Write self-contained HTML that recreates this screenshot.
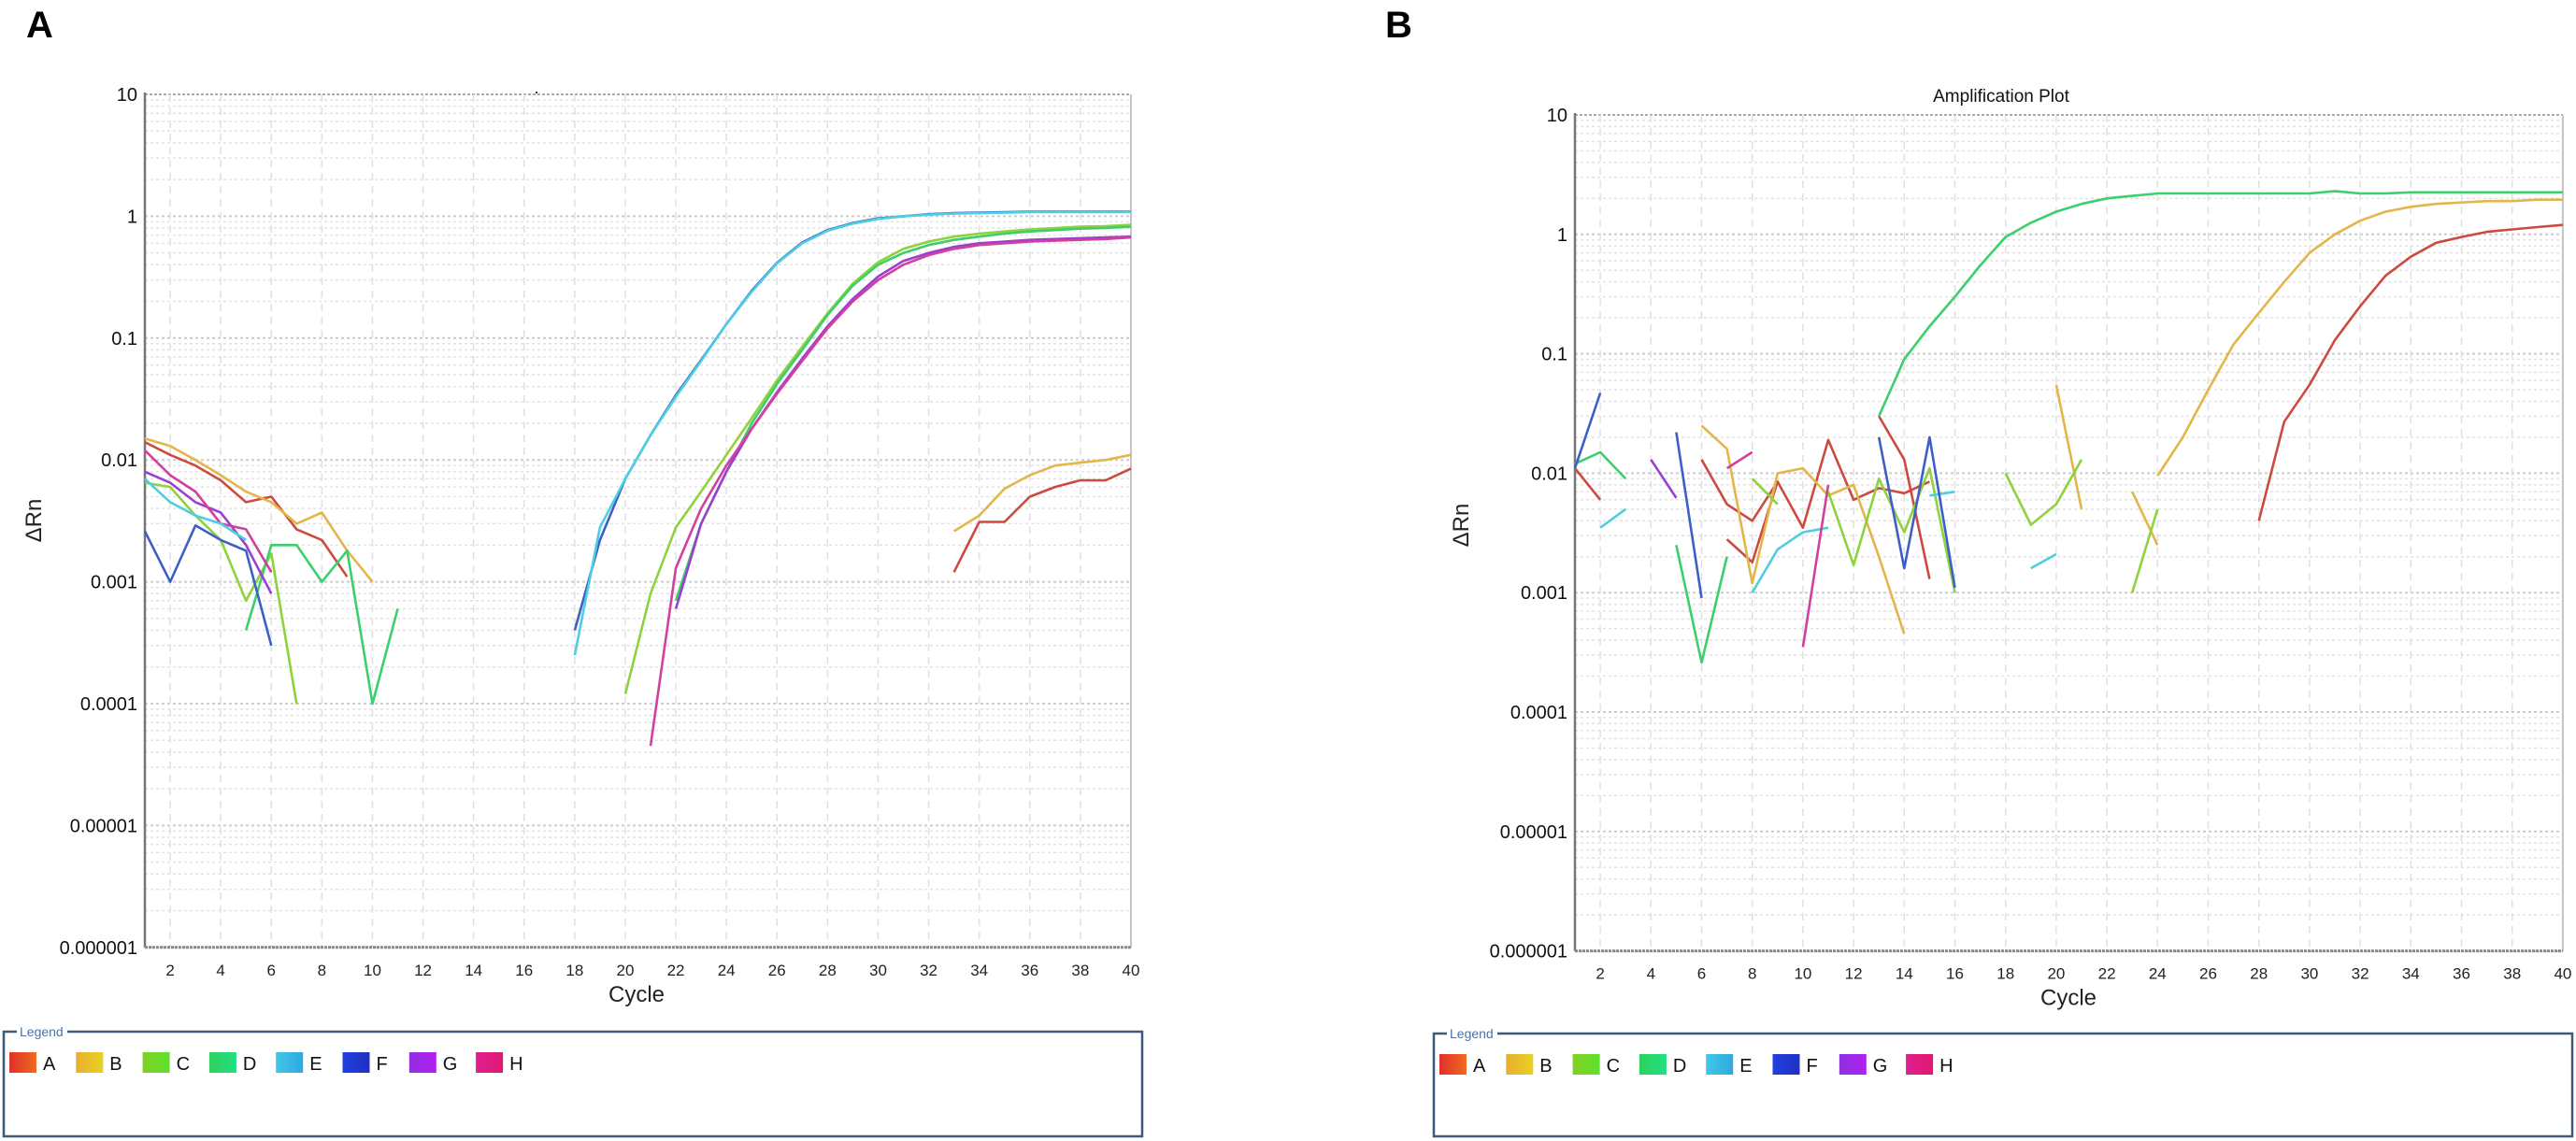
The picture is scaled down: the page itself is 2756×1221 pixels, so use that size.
<!DOCTYPE html>
<html><head><meta charset="utf-8">
<style>
html,body{margin:0;padding:0;background:#fff;}
body{width:2756px;height:1221px;overflow:hidden;font-family:"Liberation Sans",sans-serif;}
svg{position:absolute;left:0;top:0;}
</style></head>
<body>
<svg id="chart" width="2756" height="1221" viewBox="0 0 2756 1221" xmlns="http://www.w3.org/2000/svg">
<defs>
<linearGradient id="gA" x1="0" x2="1"><stop offset="0" stop-color="#e0302a"/><stop offset="1" stop-color="#f06a20"/></linearGradient>
<linearGradient id="gB" x1="0" x2="1"><stop offset="0" stop-color="#e8b030"/><stop offset="1" stop-color="#e8d020"/></linearGradient>
<linearGradient id="gC" x1="0" x2="1"><stop offset="0" stop-color="#80d020"/><stop offset="1" stop-color="#60e030"/></linearGradient>
<linearGradient id="gD" x1="0" x2="1"><stop offset="0" stop-color="#30d060"/><stop offset="1" stop-color="#20e080"/></linearGradient>
<linearGradient id="gE" x1="0" x2="1"><stop offset="0" stop-color="#40c8e8"/><stop offset="1" stop-color="#30a8e0"/></linearGradient>
<linearGradient id="gF" x1="0" x2="1"><stop offset="0" stop-color="#2040e0"/><stop offset="1" stop-color="#2030c0"/></linearGradient>
<linearGradient id="gG" x1="0" x2="1"><stop offset="0" stop-color="#9030e0"/><stop offset="1" stop-color="#b020f0"/></linearGradient>
<linearGradient id="gH" x1="0" x2="1"><stop offset="0" stop-color="#e02090"/><stop offset="1" stop-color="#e01870"/></linearGradient>
</defs>
<text x="28" y="40" font-size="40" font-weight="bold" fill="#000">A</text>
<text x="1482" y="40" font-size="40" font-weight="bold" fill="#000">B</text>
<text x="2141" y="109" font-size="19" text-anchor="middle" fill="#111">Amplification Plot</text>
<rect x="573" y="98" width="2" height="2" fill="#333"/>
<g id="panelA"></g>
<g id="panelB"></g>
</svg>
<script>
const N = null;
const cycleTicks = [2,4,6,8,10,12,14,16,18,20,22,24,26,28,30,32,34,36,38,40];
const yTickValues = [10,1,0.1,0.01,0.001,0.0001,0.00001,0.000001];
const yTickLabels = ["10","1","0.1","0.01","0.001","0.0001","0.00001","0.000001"];
const legendKeys = ["A","B","C","D","E","F","G","H"];
const lineColors = {A:"#cc4a3e",B:"#e3b64a",C:"#8ed23c",D:"#3ccf6c",E:"#4fcde2",F:"#3d5fc6",G:"#9a3fd0",H:"#d2409e"};

// Panel A series (cycle 1..40, null = no data)
const aA1 = [0.014,0.011,0.009,0.0068,0.0045,0.005,0.0027,0.0022,0.0011,N,N,N,N,N,N,N,N,N,N,N,N,N,N,N,N,N,N,N,N,N,N,N,0.0012,0.0031,0.0031,0.005,0.006,0.0068,0.0068,0.0085];
const aB1 = [0.015,0.013,0.010,0.0075,0.0055,0.0045,0.003,0.0037,0.0018,0.001,N,N,N,N,N,N,N,N,N,N,N,N,N,N,N,N,N,N,N,N,N,N,0.0026,0.0035,0.0058,0.0075,0.009,0.0095,0.010,0.011];
const aC1 = [0.0065,0.006,0.0035,0.0022,0.0007,0.0017,0.0001,N,N,N,N,N,N,N,N,N,N,N,N,0.00012,0.0008,0.0028,0.0055,0.011,0.022,0.045,0.085,0.16,0.28,0.42,0.54,0.62,0.68,0.72,0.75,0.78,0.8,0.82,0.83,0.85];
const aD1 = [N,N,N,N,0.0004,0.002,0.002,0.001,0.0018,0.0001,0.0006,N,N,N,N,N,N,N,N,N,N,0.0007,0.003,0.008,0.02,0.042,0.08,0.155,0.27,0.4,0.5,0.58,0.64,0.68,0.72,0.75,0.77,0.79,0.8,0.82];
const aE1 = [0.007,0.0045,0.0035,0.003,0.0022,N,N,N,N,N,N,N,N,N,N,N,N,0.00025,0.0028,0.007,0.016,0.033,0.065,0.13,0.24,0.41,0.6,0.76,0.87,0.95,1.0,1.03,1.05,1.06,1.07,1.08,1.08,1.08,1.08,1.08];
const aF1 = [0.0026,0.001,0.0029,0.0022,0.0018,0.0003,N,N,N,N,N,N,N,N,N,N,N,0.0004,0.0022,0.007,0.016,0.034,0.066,0.13,0.245,0.415,0.61,0.77,0.88,0.96,1.0,1.04,1.06,1.07,1.08,1.09,1.09,1.09,1.09,1.09];
const aG1 = [0.008,0.0065,0.0045,0.0037,0.002,0.0008,N,N,N,N,N,N,N,N,N,N,N,N,N,N,N,0.0006,0.003,0.008,0.018,0.036,0.068,0.125,0.21,0.32,0.43,0.5,0.56,0.6,0.62,0.64,0.65,0.66,0.67,0.68];
const aH1 = [0.012,0.0075,0.0055,0.003,0.0027,0.0012,N,N,N,N,N,N,N,N,N,N,N,N,N,N,0.000045,0.0013,0.004,0.009,0.018,0.035,0.065,0.12,0.2,0.3,0.4,0.48,0.54,0.58,0.6,0.62,0.63,0.64,0.65,0.67];

// Panel B series
const bA1 = [0.011,0.006,N,N,N,0.013,0.0055,0.004,0.0085,0.0035,0.019,0.006,0.0075,0.0068,0.0085,N,N,N,N,N,N,N,N,N,N,N,N,0.004,0.027,0.055,0.13,0.25,0.45,0.65,0.85,0.95,1.05,1.1,1.15,1.2];
const bA2 = [N,N,N,N,N,N,0.0028,0.0018,0.0085,N,N,N,0.03,0.013,0.0013,N,N,N,N,N,N,N,N,N,N,N,N,N,N,N,N,N,N,N,N,N,N,N,N,N];
const bB1 = [N,N,N,N,N,0.025,0.016,0.0012,0.010,0.011,0.0065,0.008,0.002,0.00045,N,N,0.019,N,N,0.055,0.005,N,0.007,0.0025,N,N,N,N,N,N,N,N,N,N,N,N,N,N,N,N];
const bB2 = [N,N,N,N,N,N,N,N,N,N,N,N,N,N,N,N,N,N,N,N,N,N,N,0.0095,0.02,0.05,0.12,0.22,0.4,0.7,1.0,1.3,1.55,1.7,1.8,1.85,1.9,1.9,1.95,1.95];
const bC1 = [N,N,N,N,N,N,N,0.009,0.0055,N,0.007,0.0017,0.009,0.0032,0.011,0.001,N,0.01,0.0037,0.0055,0.013,N,0.001,0.005,N,N,N,N,N,N,N,N,N,N,N,N,N,N,N,N];
const bD1 = [0.012,0.015,0.009,N,0.0025,0.00026,0.002,N,N,N,N,N,0.03,0.09,0.17,0.3,0.55,0.95,1.25,1.55,1.8,2.0,2.1,2.2,2.2,2.2,2.2,2.2,2.2,2.2,2.3,2.2,2.2,2.25,2.25,2.25,2.25,2.25,2.25,2.25];
const bE1 = [N,0.0035,0.005,N,N,N,N,0.001,0.0023,0.0032,0.0035,N,N,N,0.0065,0.007,N,N,0.0016,0.0021,N,N,N,N,N,N,N,N,N,N,N,N,N,N,N,N,N,N,N,N];
const bF1 = [0.011,0.047,N,N,0.022,0.0009,N,N,N,N,N,N,0.02,0.0016,0.02,0.0011,N,N,N,N,N,N,N,N,N,N,N,N,N,N,N,N,N,N,N,N,N,N,N,N];
const bG1 = [N,N,N,0.013,0.0062,N,N,N,N,N,N,N,N,N,N,N,N,N,N,N,N,N,N,N,N,N,N,N,N,N,N,N,N,N,N,N,N,N,N,N];
const bH1 = [N,N,N,N,N,N,0.011,0.015,N,0.00035,0.008,N,0.02,N,N,N,N,N,N,N,N,N,N,N,N,N,N,N,N,N,N,N,N,N,N,N,N,N,N,N];

const seriesA = [["A",aA1],["B",aB1],["C",aC1],["D",aD1],["G",aG1],["H",aH1],["F",aF1],["E",aE1]];
const seriesB = [["A",bA1],["A",bA2],["B",bB1],["B",bB2],["C",bC1],["D",bD1],["E",bE1],["F",bF1],["G",bG1],["H",bH1]];

const NS = "http://www.w3.org/2000/svg";
function mk(tag, attrs, parent){
  const e = document.createElementNS(NS, tag);
  for (const k in attrs) e.setAttribute(k, attrs[k]);
  parent.appendChild(e); return e;
}

function drawPanel(g, geo, series, prefix){
  const xs = c => geo.x0 + (c-1)*geo.dx;
  const ys = v => geo.yTop + (1 - Math.log10(v))*geo.dec;
  const yBot = ys(0.000001), xR = xs(40);
  for (let d=1; d>=-6; d--){
    for (let m=1; m<=9; m++){
      const val = m*Math.pow(10,d-1);
      if (val>10 || val<0.000001) continue;
      const y = ys(val);
      const l = mk("line",{x1:geo.x0,x2:xR,y1:y,y2:y,stroke:m===1?"#cccccc":"#e2e2e2","stroke-width":m===1?2:1.5,"stroke-dasharray":"3 3"},g);
      
      
    }
  }
  const top = mk("line",{x1:geo.x0,x2:xR,y1:ys(10),y2:ys(10),stroke:"#aaa","stroke-width":2,"stroke-dasharray":"3 2"},g);
  
  
  cycleTicks.forEach(c=>{
    const x = xs(c);
    const l = mk("line",{x1:x,x2:x,y1:ys(10),y2:yBot,stroke:"#e0e0e0","stroke-width":1.5,"stroke-dasharray":"8 6"},g);
    
    
    const t = mk("text",{x:x,y:yBot+30,"font-size":17,"text-anchor":"middle",fill:"#222"},g);
    t.textContent = c;
    
    
  });
  const ra = mk("line",{x1:xR,x2:xR,y1:ys(10),y2:yBot,stroke:"#c4c4c4","stroke-width":2},g);
  
  
  const ya = mk("line",{x1:geo.x0,x2:geo.x0,y1:ys(10)-2,y2:yBot,stroke:"#777","stroke-width":2.5},g);
  
  
  const xa = mk("line",{x1:geo.x0,x2:xR,y1:yBot,y2:yBot,stroke:"#888","stroke-width":3,"stroke-dasharray":"3 1"},g);
  
  
  yTickValues.forEach((v,i)=>{
    const t = mk("text",{x:geo.x0-8,y:ys(v)+7,"font-size":20,"text-anchor":"end",fill:"#111"},g);
    t.textContent = yTickLabels[i];
    
    
  });
  const xt = mk("text",{x:geo.xLabel,y:yBot+58,"font-size":24,"text-anchor":"middle",fill:"#222"},g);
  xt.textContent = "Cycle";
  
  
  const yt = mk("text",{x:0,y:0,"font-size":24,"text-anchor":"middle",fill:"#222",transform:`translate(${geo.yLabelX},${geo.yLabelY}) rotate(-90)`},g);
  yt.textContent = "ΔRn";
  
  
  series.forEach(([key, vals])=>{
    let seg = [];
    const flush = ()=>{
      if (seg.length>1){
        const p = mk("polyline",{points:seg.join(" "),fill:"none",stroke:lineColors[key],"stroke-width":2.6,"stroke-linejoin":"round"},g);
        
        
      }
      seg = [];
    };
    vals.forEach((v,i)=>{
      if (v===null) { flush(); return; }
      seg.push(xs(i+1).toFixed(1)+","+ys(v).toFixed(1));
    });
    flush();
  });
  const lg = geo.legend;
  const box = mk("path",{d:`M${lg.x+14},${lg.y} L${lg.x},${lg.y} L${lg.x},${lg.y+lg.h} L${lg.x+lg.w},${lg.y+lg.h} L${lg.x+lg.w},${lg.y} L${lg.x+68},${lg.y}`,fill:"none",stroke:"#3d5a78","stroke-width":2.5},g);
  
  
  const lt = mk("text",{x:lg.x+17,y:lg.y+5,"font-size":14,fill:"#4a73a8"},g);
  lt.textContent = "Legend";
  
  
  legendKeys.forEach((k,i)=>{
    const x = lg.x+6+i*71.3;
    const r = mk("rect",{x:x,y:lg.y+22,width:29,height:22,fill:`url(#g${k})`},g);
    
    
    const t = mk("text",{x:x+36,y:lg.y+41,"font-size":20,fill:"#111"},g);
    t.textContent = k;
    
    
  });
}

drawPanel(document.getElementById("panelA"),
  {x0:155,dx:27.05,yTop:101,dec:130.4,xLabel:681,yLabelX:44,yLabelY:557,
   legend:{x:4,y:1104,w:1218,h:112}}, seriesA, "a");
drawPanel(document.getElementById("panelB"),
  {x0:1685,dx:27.1,yTop:123,dec:127.8,xLabel:2213,yLabelX:1571,yLabelY:562,
   legend:{x:1534,y:1106,w:1218,h:110}}, seriesB, "b");
</script>
</body></html>
